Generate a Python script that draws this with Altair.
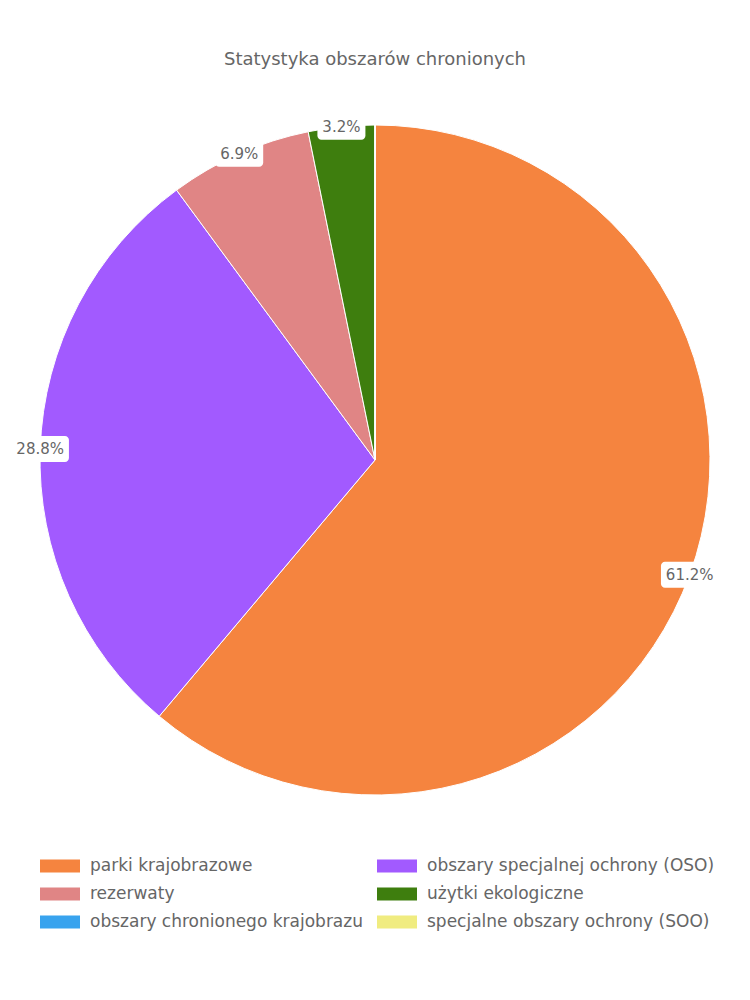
import altair as alt
import pandas as pd

title_text = "Statystyka obszarów chronionych"
categories = [
    "parki krajobrazowe",
    "obszary specjalnej ochrony (OSO)",
    "rezerwaty",
    "użytki ekologiczne",
    "obszary chronionego krajobrazu",
    "specjalne obszary ochrony (SOO)",
]
values = [61.2, 28.8, 6.9, 3.2, 0.0, 0.0]
colors = ["#f5843f", "#a25aff", "#e08585", "#3e7e0e", "#38a3ee", "#f0ec80"]

FONT = "DejaVu Sans"
TXT = "#666666"
CX, CY, R = 375, 460, 335

df = pd.DataFrame({"category": categories, "value": values, "idx": list(range(len(categories)))})

base = alt.Chart(df)

arc = base.mark_arc(outerRadius=R, stroke="white", strokeWidth=1).encode(
    theta=alt.Theta("value:Q", stack=True),
    color=alt.Color(
        "category:N",
        sort=categories,
        scale=alt.Scale(domain=categories, range=colors),
        legend=alt.Legend(
            orient="none",
            legendX=40,
            legendY=846,
            columns=2,
            direction="horizontal",
            title=None,
            symbolType="M-1,-0.325H1V0.325H-1Z",
            symbolSize=1600,
            symbolStrokeWidth=0,
            labelFont=FONT,
            labelFontSize=17,
            labelColor=TXT,
            labelOffset=10,
            rowPadding=0,
            columnPadding=14,
            labelLimit=400,
        ),
    ),
    order=alt.Order("idx:Q"),
    x=alt.value(CX),
    y=alt.value(CY),
)

lab = (
    base.transform_filter("datum.value > 0")
    .transform_joinaggregate(total="sum(value)")
    .transform_window(cum="sum(value)", sort=[alt.SortField("idx")], frame=[None, 0])
    .transform_calculate(
        a="2*PI*(datum.cum - datum.value/2)/datum.total",
        label="format(datum.value, '.1f') + '%'",
    )
    .transform_calculate(
        lx=f"{CX} + {R}*sin(datum.a)",
        ly=f"{CY} - {R}*cos(datum.a)",
        w="length(datum.label)*9.5 + 10",
    )
    .transform_calculate(
        x1="datum.lx - datum.w/2",
        x2="datum.lx + datum.w/2",
        y1="datum.ly - 13",
        y2="datum.ly + 13",
    )
)

boxes = lab.mark_rect(fill="white", cornerRadius=4).encode(
    x=alt.X("x1:Q", scale=None, axis=None),
    x2="x2:Q",
    y=alt.Y("y1:Q", scale=None, axis=None),
    y2="y2:Q",
)

texts = lab.mark_text(font=FONT, fontSize=15, color=TXT, baseline="middle", align="center").encode(
    x=alt.X("lx:Q", scale=None, axis=None),
    y=alt.Y("ly:Q", scale=None, axis=None),
    text="label:N",
)

title = alt.Chart(pd.DataFrame({"t": [title_text]})).mark_text(
    font=FONT, fontSize=18, color=TXT, baseline="middle", align="center"
).encode(x=alt.value(CX), y=alt.value(60), text="t:N")

chart = (
    alt.layer(arc, boxes, texts, title)
    .properties(width=750, height=1000, padding=0, autosize=alt.AutoSizeParams(type="none"))
    .configure_view(stroke=None)
)

chart.save("out.html", embed_options={"renderer": "svg", "actions": False})
